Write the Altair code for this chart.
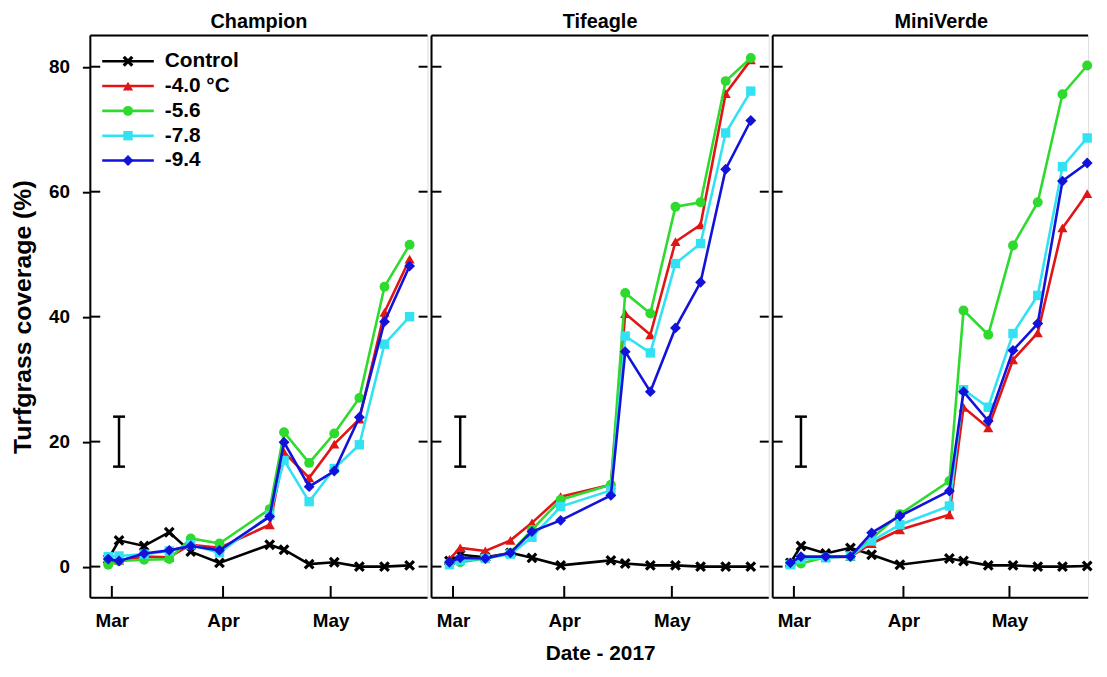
import altair as alt
import pandas as pd

# ---------------- data ----------------
dates = ["2017-02-28", "2017-03-03", "2017-03-10", "2017-03-17", "2017-03-23",
         "2017-03-31", "2017-04-14", "2017-04-18", "2017-04-25", "2017-05-02",
         "2017-05-09", "2017-05-16", "2017-05-23"]

panels = ["Champion", "Tifeagle", "MiniVerde"]
series = ["Control", "-4.0 °C", "-5.6", "-7.8", "-9.4"]

champion_control = [1.2, 4.2, 3.3, 5.5, 2.4, 0.6, 3.5, 2.7, 0.4, 0.7, 0.0, 0.0, 0.2]
champion_m40 = [1.0, 1.0, 1.6, 1.5, 3.5, 3.0, 6.7, 18.3, 14.2, 19.6, 23.6, 40.7, 49.2]
champion_m56 = [0.3, 0.9, 1.1, 1.2, 4.5, 3.7, 9.2, 21.5, 16.6, 21.3, 27.0, 44.8, 51.5]
champion_m78 = [1.6, 1.7, 2.0, 2.5, 3.5, 2.2, 8.2, 17.0, 10.4, 15.7, 19.5, 35.6, 40.0]
champion_m94 = [1.2, 0.9, 2.1, 2.6, 3.3, 2.6, 8.0, 19.9, 12.8, 15.3, 23.9, 39.2, 48.1]

tifeagle_control = [0.9, 1.9, 1.5, 2.2, 1.4, 0.2, 1.0, 0.5, 0.2, 0.2, 0.0, 0.0, 0.0]
tifeagle_m40 = [1.2, 3.0, 2.5, 4.2, 7.0, 11.2, 13.1, 40.5, 37.1, 52.0, 54.7, 75.7, 81.1]
tifeagle_m56 = [0.5, 0.7, 1.3, 2.2, 5.9, 10.7, 13.1, 43.8, 40.5, 57.6, 58.3, 77.7, 81.4]
tifeagle_m78 = [0.3, 1.0, 1.3, 2.0, 4.7, 9.6, 12.2, 36.9, 34.2, 48.5, 51.7, 69.4, 76.1]
tifeagle_m94 = [0.7, 1.4, 1.3, 2.2, 5.6, 7.4, 11.4, 34.4, 28.0, 38.2, 45.5, 63.6, 71.4]

miniverde_control = [0.6, 3.3, 2.1, 3.0, 1.9, 0.3, 1.3, 0.9, 0.2, 0.2, 0.0, 0.0, 0.1]
miniverde_m40 = [0.5, 1.2, 1.5, 1.6, 3.7, 5.9, 8.3, 25.5, 22.2, 33.1, 37.4, 54.2, 59.7]
miniverde_m56 = [0.5, 0.5, 1.5, 1.6, 4.5, 8.4, 13.7, 41.0, 37.1, 51.4, 58.3, 75.6, 80.2]
miniverde_m78 = [0.3, 1.2, 1.4, 1.7, 4.1, 6.7, 9.7, 28.3, 25.5, 37.3, 43.4, 64.0, 68.6]
miniverde_m94 = [0.6, 1.6, 1.6, 1.6, 5.4, 8.1, 12.1, 28.0, 23.3, 34.6, 38.9, 61.7, 64.6]

panel_values = {
    "Champion": [champion_control, champion_m40, champion_m56, champion_m78, champion_m94],
    "Tifeagle": [tifeagle_control, tifeagle_m40, tifeagle_m56, tifeagle_m78, tifeagle_m94],
    "MiniVerde": [miniverde_control, miniverde_m40, miniverde_m56, miniverde_m78, miniverde_m94],
}

y_ticks = [0, 20, 40, 60, 80]
x_tick_dates = ["2017-03-01", "2017-04-01", "2017-05-01"]
err_date = "2017-03-03"
err_lo = 16
err_hi = 24

# ---------------- style ----------------
FONT = "Liberation Sans"
colors = ["#000000", "#E01515", "#2FDA2F", "#33E2F2", "#1212DA"]
XPATH = "M-1,-1L1,1M-1,1L1,-1"
shapes = [XPATH, "triangle-up", "circle", "square", "diamond"]
sizes = [75, 105, 100, 90, 120]
H = 567
widths = [340, 340, 318]  # last panel is cut at the right edge of the picture

def local(d):
    return d + "T00:00:00"

xdom_full = [alt.DateTime(year=2017, month=2, date=23), alt.DateTime(year=2017, month=5, date=28)]
xdom_cut = [alt.DateTime(year=2017, month=2, date=23),
            alt.DateTime(year=2017, month=5, date=23, hours=6)]
ydom = [-5, 85]
x_tick_dt = [alt.DateTime(year=int(d[:4]), month=int(d[5:7]), date=int(d[8:])) for d in x_tick_dates]


def make_panel(idx, name):
    W = widths[idx]
    xdom = xdom_cut if idx == 2 else xdom_full
    if idx == 0:
        yaxis = alt.Axis(values=y_ticks, tickSize=8, tickWidth=2, tickColor="black",
                         domain=False, grid=False, labelFontSize=19, labelFontWeight="bold",
                         labelColor="black", labelPadding=13, labelFont=FONT,
                         title="Turfgrass coverage (%)", titleFontSize=25,
                         titleFontWeight="bold", titleColor="black", titlePadding=13,
                         titleFont=FONT)
    else:
        yaxis = None
    xaxis = alt.Axis(values=x_tick_dt, format="%b", ticks=False, tickSize=0, domain=False,
                     grid=False, labelFontSize=19, labelFontWeight="bold", labelColor="black",
                     labelPadding=14, labelFont=FONT,
                     title=("Date - 2017" if idx == 1 else None),
                     titleFontSize=21, titleFontWeight="bold", titleColor="black",
                     titlePadding=12, titleFont=FONT)
    xenc = alt.X("date:T", scale=alt.Scale(domain=xdom), axis=xaxis)
    yenc = alt.Y("value:Q", scale=alt.Scale(domain=ydom), axis=yaxis)

    layers = []
    dummy = pd.DataFrame({"k": [0]})

    # frame (left, top, bottom); right edge comes from the next panel / is cut off
    layers.append(alt.Chart(dummy).mark_rule(color="black", strokeWidth=2).encode(
        x=alt.value(0), y=alt.value(0), y2=alt.value(H)))
    layers.append(alt.Chart(dummy).mark_rule(color="black", strokeWidth=2).encode(
        x=alt.value(0), x2=alt.value(W), y=alt.value(0)))
    layers.append(alt.Chart(dummy).mark_rule(color="black", strokeWidth=2).encode(
        x=alt.value(0), x2=alt.value(W), y=alt.value(H)))

    # tick marks drawn inward on the frame
    ytick_df = pd.DataFrame({"value": y_ticks})
    layers.append(alt.Chart(ytick_df).mark_rule(color="black", strokeWidth=2).encode(
        y=yenc, x=alt.value(0), x2=alt.value(10)))
    if idx < 2:
        layers.append(alt.Chart(ytick_df).mark_rule(color="black", strokeWidth=2).encode(
            y=yenc, x=alt.value(W - 9), x2=alt.value(W)))
    xtick_df = pd.DataFrame({"date": [local(d) for d in x_tick_dates]})
    layers.append(alt.Chart(xtick_df).mark_rule(color="black", strokeWidth=2).encode(
        x=xenc, y=alt.value(H - 12), y2=alt.value(H)))

    # error bar
    err_df = pd.DataFrame({"date": [local(err_date)], "value": [err_lo], "value2": [err_hi]})
    layers.append(alt.Chart(err_df).mark_rule(color="black", strokeWidth=2.5).encode(
        x=xenc, y=yenc, y2="value2:Q"))
    for col in ["value", "value2"]:
        cap_df = pd.DataFrame({"date": [local(err_date)], "date2": [local(err_date)],
                               "value": [err_df[col][0]]})
        layers.append(alt.Chart(cap_df).mark_rule(color="black", strokeWidth=2.5,
                                                  xOffset=-6, x2Offset=6).encode(
            x=xenc, x2="date2:T", y=yenc))

    # series
    for s, vals, c, sh, sz in zip(series, panel_values[name], colors, shapes, sizes):
        df = pd.DataFrame({"date": [local(d) for d in dates], "value": vals, "series": s})
        base = alt.Chart(df)
        layers.append(base.mark_line(color=c, strokeWidth=2.6).encode(x=xenc, y=yenc))
        if s == "Control":
            layers.append(base.mark_point(shape=sh, filled=False, color=c, strokeWidth=3.2,
                                          size=sz, opacity=1).encode(x=xenc, y=yenc))
        else:
            layers.append(base.mark_point(shape=sh, filled=True, color=c, size=sz,
                                          opacity=1).encode(x=xenc, y=yenc))

    # manual legend in first panel
    if idx == 0:
        for k, (s, c, sh, sz) in enumerate(zip(series, colors, shapes, sizes)):
            yp = 26 + 25 * k
            layers.append(alt.Chart(dummy).mark_rule(color=c, strokeWidth=2.6).encode(
                x=alt.value(12), x2=alt.value(64), y=alt.value(yp)))
            if s == "Control":
                layers.append(alt.Chart(dummy).mark_point(shape=sh, filled=False, color=c,
                                                          strokeWidth=3.2, size=sz, opacity=1).encode(
                    x=alt.value(38), y=alt.value(yp)))
            else:
                layers.append(alt.Chart(dummy).mark_point(shape=sh, filled=True, color=c,
                                                          size=sz, opacity=1).encode(
                    x=alt.value(38), y=alt.value(yp)))
            layers.append(alt.Chart(dummy).mark_text(align="left", baseline="middle",
                                                     fontSize=21, fontWeight="bold",
                                                     font=FONT, color="black").encode(
                x=alt.value(75), y=alt.value(yp), text=alt.value(s)))

    return alt.layer(*layers).properties(
        width=W, height=H,
        title=alt.TitleParams(name, fontSize=20, fontWeight="bold", font=FONT,
                              color="black", anchor="middle", offset=3,
                              dx=(11 if idx == 2 else 0)))


chart = alt.hconcat(*[make_panel(i, p) for i, p in enumerate(panels)], spacing=0).properties(
    padding={"left": 2, "top": 0, "right": 0, "bottom": 0}
).configure_concat(
    spacing=0
).configure_view(
    strokeWidth=0
).configure(font=FONT, background="white")

chart.save("out.html", embed_options={"renderer": "svg", "actions": False})
